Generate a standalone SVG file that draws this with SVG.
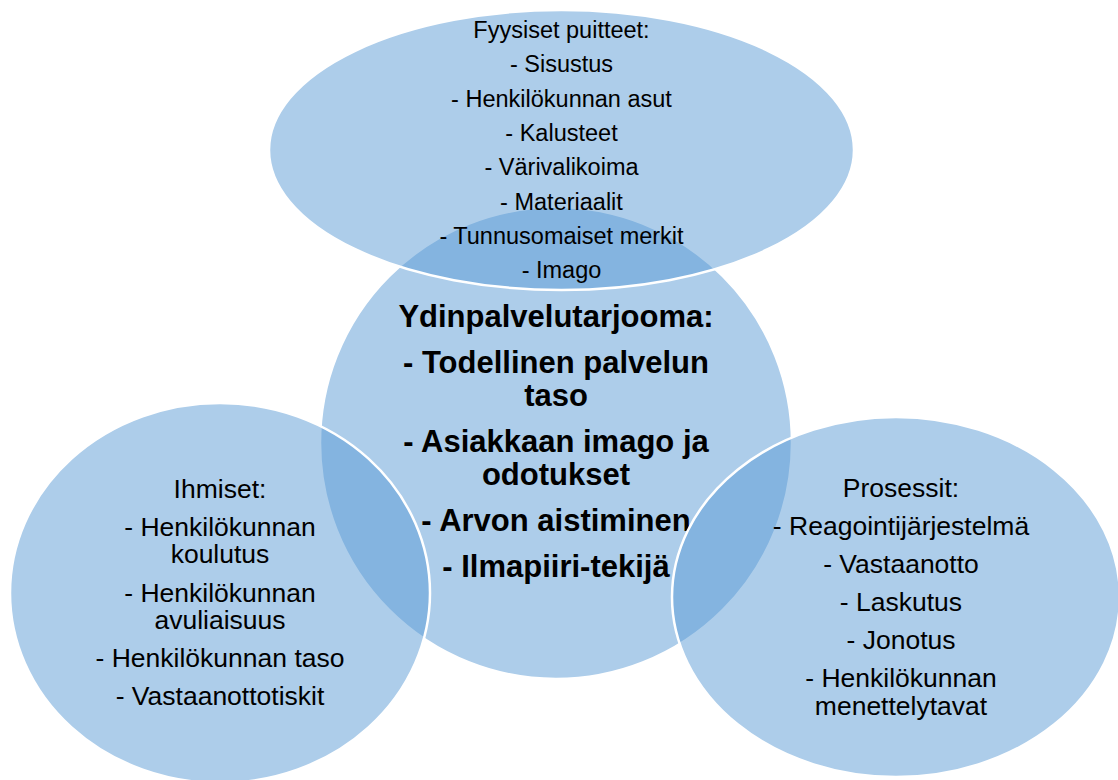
<svg xmlns="http://www.w3.org/2000/svg" width="1118" height="780" viewBox="0 0 1118 780">
  <style>
    .shape { fill: #5B9BD5; fill-opacity: 0.5; stroke: #FFFFFF; stroke-width: 2.5; }
    .t { font-family: "Liberation Sans", Arial, sans-serif; fill: #000000; text-anchor: middle; }
    .top { font-size: 23.5px; }
    .side { font-size: 26.5px; }
    .core { font-size: 31px; font-weight: bold; }
  </style>
  <rect width="1118" height="780" fill="#FFFFFF"/>
  <g id="node-core">
    <circle class="shape" cx="556" cy="443" r="236"/>
    <text class="t core" x="556" y="327">Ydinpalvelutarjooma:</text>
    <text class="t core" x="556" y="373">- Todellinen palvelun</text>
    <text class="t core" x="556" y="406">taso</text>
    <text class="t core" x="556" y="452">- Asiakkaan imago ja</text>
    <text class="t core" x="556" y="485">odotukset</text>
    <text class="t core" x="556" y="531">- Arvon aistiminen</text>
    <text class="t core" x="556" y="577">- Ilmapiiri-tekijä</text>
  </g>
  <g id="node-physical">
    <ellipse class="shape" cx="561.5" cy="150" rx="292.5" ry="140"/>
    <text class="t top" x="561.5" y="38">Fyysiset puitteet:</text>
    <text class="t top" x="561.5" y="72.3">- Sisustus</text>
    <text class="t top" x="561.5" y="106.6">- Henkilökunnan asut</text>
    <text class="t top" x="561.5" y="140.9">- Kalusteet</text>
    <text class="t top" x="561.5" y="175.2">- Värivalikoima</text>
    <text class="t top" x="561.5" y="209.5">- Materiaalit</text>
    <text class="t top" x="561.5" y="243.8">- Tunnusomaiset merkit</text>
    <text class="t top" x="561.5" y="278.1">- Imago</text>
  </g>
  <g id="node-people">
    <ellipse class="shape" cx="220" cy="593" rx="210" ry="190"/>
    <text class="t side" x="220" y="498">Ihmiset:</text>
    <text class="t side" x="220" y="536">- Henkilökunnan</text>
    <text class="t side" x="220" y="563">koulutus</text>
    <text class="t side" x="220" y="602">- Henkilökunnan</text>
    <text class="t side" x="220" y="629">avuliaisuus</text>
    <text class="t side" x="220" y="667">- Henkilökunnan taso</text>
    <text class="t side" x="220" y="705">- Vastaanottotiskit</text>
  </g>
  <g id="node-processes">
    <ellipse class="shape" cx="896" cy="597" rx="224" ry="180"/>
    <text class="t side" x="901" y="497">Prosessit:</text>
    <text class="t side" x="901" y="535">- Reagointijärjestelmä</text>
    <text class="t side" x="901" y="573">- Vastaanotto</text>
    <text class="t side" x="901" y="611">- Laskutus</text>
    <text class="t side" x="901" y="649">- Jonotus</text>
    <text class="t side" x="901" y="687">- Henkilökunnan</text>
    <text class="t side" x="901" y="715">menettelytavat</text>
  </g>
  <g id="connectors"/>
</svg>
